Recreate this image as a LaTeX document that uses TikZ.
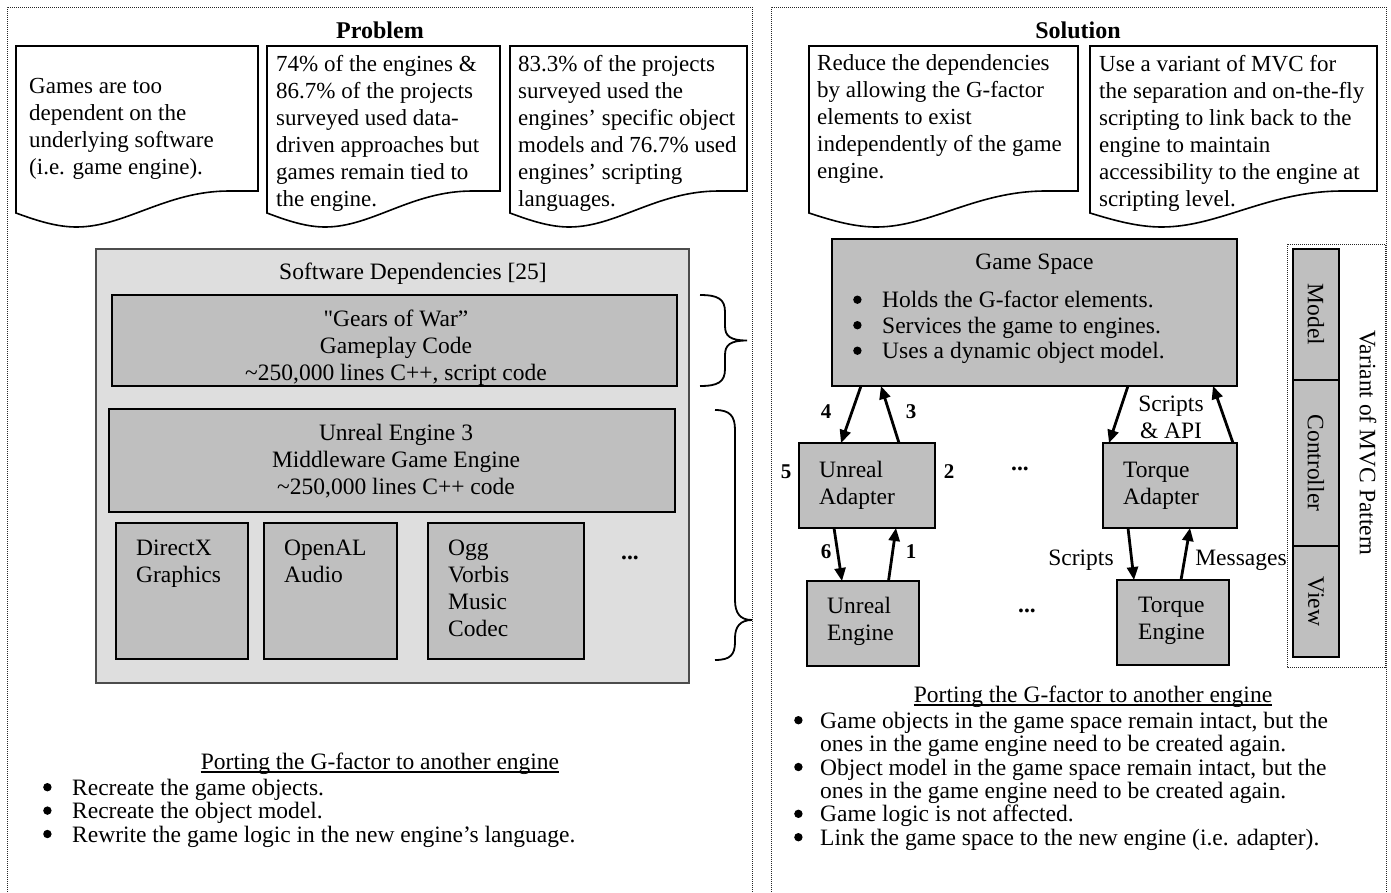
\documentclass[tikz,border=0pt]{standalone}
\usepackage{fontspec}
\setmainfont{Liberation Serif}[Ligatures=TeXOff]
\usetikzlibrary{arrows.meta}
\newcommand\fs{\rule{0pt}{18pt}}
\newcommand\fdoc{\fontsize{23}{27}\selectfont}
\newcommand\fntb{\fontsize{23.5}{27}\selectfont}
\newcommand\fntl{\fontsize{23.5}{23.4}\selectfont}
\newcommand\bdot{\tikz[x=1pt,y=1pt,baseline=0pt]{\fill (4,8) circle [radius=4.2];}}
\newcommand\bul[1]{\makebox[#1][l]{\bdot}}
\newcommand\bx[6]{\node[#2,anchor=north west,minimum width={(#5)-(#3)},minimum height={(#6)-(#4)}] (#1) at (#3,#4) {};}
\newcommand\docshape[2]{%
  \pgfmathsetmacro\dW{#2-#1}%
  \pgfmathsetmacro\dA{#1+0.25*\dW}%
  \pgfmathsetmacro\dB{#1+0.09*\dW}%
  \pgfmathsetmacro\dC{#1+0.17*\dW}%
  \pgfmathsetmacro\dD{#1+0.45*\dW}%
  \pgfmathsetmacro\dE{#1+0.62*\dW}%
  \pgfmathsetmacro\dF{#1+0.88*\dW}%
  \draw[docst] (#1,46) -- (#2,46) -- (#2,191) -- (\dF,191) .. controls (\dE,191) and (\dD,227) .. (\dA,227) .. controls (\dC,227) and (\dB,221) .. (#1,213) -- cycle;
}
\tikzset{
  panel/.style={draw=black!85, line width=1pt, dash pattern=on 1pt off 1pt},
  docst/.style={draw=black, line width=1.6pt, fill=white, line join=miter},
  lbox/.style={draw=black!70, line width=1.5pt, fill=black!13, inner sep=0, outer sep=0},
  gbox/.style={draw=black, line width=1.8pt, fill=black!25, inner sep=0, outer sep=0},
  txt/.style={inner sep=0, align=left, anchor=north west, font=\fntb},
  ctxt/.style={inner sep=0, align=center, anchor=north, font=\fntb},
  dtxt/.style={inner sep=0, align=left, anchor=north west, font=\fdoc},
  arr/.style={line width=2.8pt, -{Triangle[length=13pt,width=11pt]}},
  num/.style={inner sep=0, font=\fontsize{21}{21}\selectfont\bfseries},
  lbl/.style={inner sep=0, font=\fntb},
  brace/.style={draw=black, line width=1.8pt},
}
\begin{document}
\begin{tikzpicture}[x=1pt,y=-1pt]
\useasboundingbox (0,0) rectangle (1391,892);
% panels
\draw[panel] (7,900) -- (7,7) -- (752,7) -- (752,900);
\draw[panel] (771,900) -- (771,7) -- (1386,7) -- (1386,900);
\node[inner sep=0, anchor=base, font=\fontsize{24}{27}\selectfont\bfseries] (prob) at (380,38) {Problem};
\node[inner sep=0, anchor=base, font=\fontsize{24}{27}\selectfont\bfseries] (sol) at (1078,38) {Solution};
% documents
\docshape{16}{258}
\docshape{267}{500}
\docshape{510}{747}
\docshape{809}{1078}
\docshape{1090}{1377}
\node[dtxt] (d1) at (29,75) {\fs Games are too\\dependent on the\\underlying software\\(i.e. game engine).};
\node[dtxt] (d2) at (276,53) {\fs 74\% of the engines \&\\86.7\% of the projects\\surveyed used data-\\driven approaches but\\games remain tied to\\the engine.};
\node[dtxt] (d3) at (518,53) {\fs 83.3\% of the projects\\surveyed used the\\engines’ specific object\\models and 76.7\% used\\engines’ scripting\\languages.};
\node[dtxt] (d4) at (817,52) {\fs Reduce the dependencies\\by allowing the G-factor\\elements to exist\\independently of the game\\engine.};
\node[dtxt] (d5) at (1099,53) {\fs Use a variant of MVC for\\the separation and on-the-fly\\scripting to link back to the\\engine to maintain\\accessibility to the engine at\\scripting level.};
% software dependencies
\bx{sd}{lbox}{96}{249}{689}{683}
\node[lbl, anchor=base west] (sdt) at (279,279) {Software Dependencies [25]};
\bx{gw}{gbox}{112}{295}{677}{386}
\node[ctxt] (gwt) at (396,308) {\fs"Gears of War”\\Gameplay Code\\\textasciitilde250,000 lines C++, script code};
\bx{ue}{gbox}{109}{409}{675}{512}
\node[ctxt] (uet) at (396,422) {\fs Unreal Engine 3\\Middleware Game Engine\\\textasciitilde250,000 lines C++ code};
\bx{dx}{gbox}{116}{523}{248}{659}
\node[txt] (dxt) at (136,537) {\fs DirectX\\Graphics};
\bx{oa}{gbox}{264}{523}{397}{659}
\node[txt] (oat) at (284,537) {\fs OpenAL\\Audio};
\bx{og}{gbox}{428}{523}{584}{659}
\node[txt] (ogt) at (448,537) {\fs Ogg\\Vorbis\\Music\\Codec};
\node[lbl, anchor=base, font=\fntb\bfseries] (dots1) at (630,559) {...};
% braces
\draw[brace] (700,295) .. controls (718,295) and (725,299) .. (725,312) -- (725,326) .. controls (725,336) and (730,340.5) .. (747,340.5) .. controls (730,340.5) and (725,345) .. (725,355) -- (725,369) .. controls (725,382) and (718,386) .. (700,386);
\draw[brace] (715,410) .. controls (730,410) and (735,416) .. (735,430) -- (735,600) .. controls (735,613) and (740,620) .. (752,620) .. controls (740,620) and (735,627) .. (735,638) -- (735,642) .. controls (735,655) and (730,660) .. (715,660);
% game space
\bx{gs}{gbox}{832}{239}{1237}{386}
\node[lbl, anchor=base] (gst) at (1034.5,269) {Game Space};
\node[txt, font=\fontsize{23.5}{25.5}\selectfont] (gsl) at (853,289.5) {\fs\bul{29pt}Holds the G-factor elements.\\\bul{29pt}Services the game to engines.\\\bul{29pt}Uses a dynamic object model.};
\bx{ua}{gbox}{799}{443}{935}{528}
\node[txt] (uat) at (819,459) {\fs Unreal\\Adapter};
\bx{uen}{gbox}{807}{581}{919}{666}
\node[txt] (uent) at (827,595) {\fs Unreal\\Engine};
\bx{ta}{gbox}{1103}{443}{1237}{528}
\node[txt] (tat) at (1123,459) {\fs Torque\\Adapter};
\bx{te}{gbox}{1117}{580}{1229}{665}
\node[txt] (tet) at (1138,594) {\fs Torque\\Engine};
\node[lbl, anchor=base, font=\fntb\bfseries] (dots2) at (1020,470) {...};
\node[lbl, anchor=base, font=\fntb\bfseries] (dots3) at (1027,612) {...};
% arrows
\draw[arr] ([xshift=29pt]gs.south west) -- ([xshift=42pt]ua.north west);
\draw[arr] ([xshift=100pt]ua.north west) -- ([xshift=49pt]gs.south west);
\draw[arr] ([xshift=35pt]ua.south west) -- ([xshift=35pt]uen.north west);
\draw[arr] ([xshift=81.5pt]uen.north west) -- ([xshift=97pt]ua.south west);
\draw[arr] ([xshift=296pt]gs.south west) -- ([xshift=6pt]ta.north west);
\draw[arr] ([xshift=130pt]ta.north west) -- ([xshift=381pt]gs.south west);
\draw[arr] ([xshift=25pt]ta.south west) -- ([xshift=17pt]te.north west);
\draw[arr] ([xshift=64pt]te.north west) -- ([xshift=87pt]ta.south west);
\node[num] (n4) at (826,412) {4};
\node[num] (n3) at (911,412) {3};
\node[num] (n5) at (786,472) {5};
\node[num] (n2) at (949,472) {2};
\node[num] (n6) at (826,552) {6};
\node[num] (n1) at (911,552) {1};
\node[lbl, align=center, anchor=north] (sapi) at (1171,393) {\fs Scripts\\\& API};
\node[lbl, anchor=base] (scr) at (1081,565) {Scripts};
\node[lbl, anchor=base] (msg) at (1241,565) {Messages};
% MVC
\draw[panel] (1287,244) rectangle (1385,667);
\bx{mm}{gbox}{1293}{249}{1339}{380}
\bx{mc}{gbox}{1293}{380}{1339}{546}
\bx{mv}{gbox}{1293}{546}{1339}{657}
\node[lbl, rotate=-90] (mmt) at (mm.center) {Model};
\node[lbl, rotate=-90] (mct) at (mc.center) {Controller};
\node[lbl, rotate=-90] (mvt) at (mv.center) {View};
\node[lbl, rotate=-90] (mvcp) at (1368,443) {Variant of MVC Pattern};
% bottom left
\node[inner sep=0, anchor=base, font=\fntl] (portL) at (380,769) {Porting the G-factor to another engine};
\draw[line width=1.2pt] ([yshift=-3pt]portL.base west) -- ([yshift=-3pt]portL.base east);
\node[txt, font=\fntl] (listL) at (43,777) {\fs\bul{29pt}Recreate the game objects.\\\bul{29pt}Recreate the object model.\\\bul{29pt}Rewrite the game logic in the new engine’s language.};
% bottom right
\node[inner sep=0, anchor=base, font=\fntl] (portR) at (1093,702) {Porting the G-factor to another engine};
\draw[line width=1.2pt] ([yshift=-3pt]portR.base west) -- ([yshift=-3pt]portR.base east);
\node[txt, font=\fntl] (listR) at (794,710) {\fs\bul{26pt}Game objects in the game space remain intact, but the\\\hspace*{26pt}ones in the game engine need to be created again.\\\bul{26pt}Object model in the game space remain intact, but the\\\hspace*{26pt}ones in the game engine need to be created again.\\\bul{26pt}Game logic is not affected.\\\bul{26pt}Link the game space to the new engine (i.e. adapter).};
\end{tikzpicture}
\end{document}
